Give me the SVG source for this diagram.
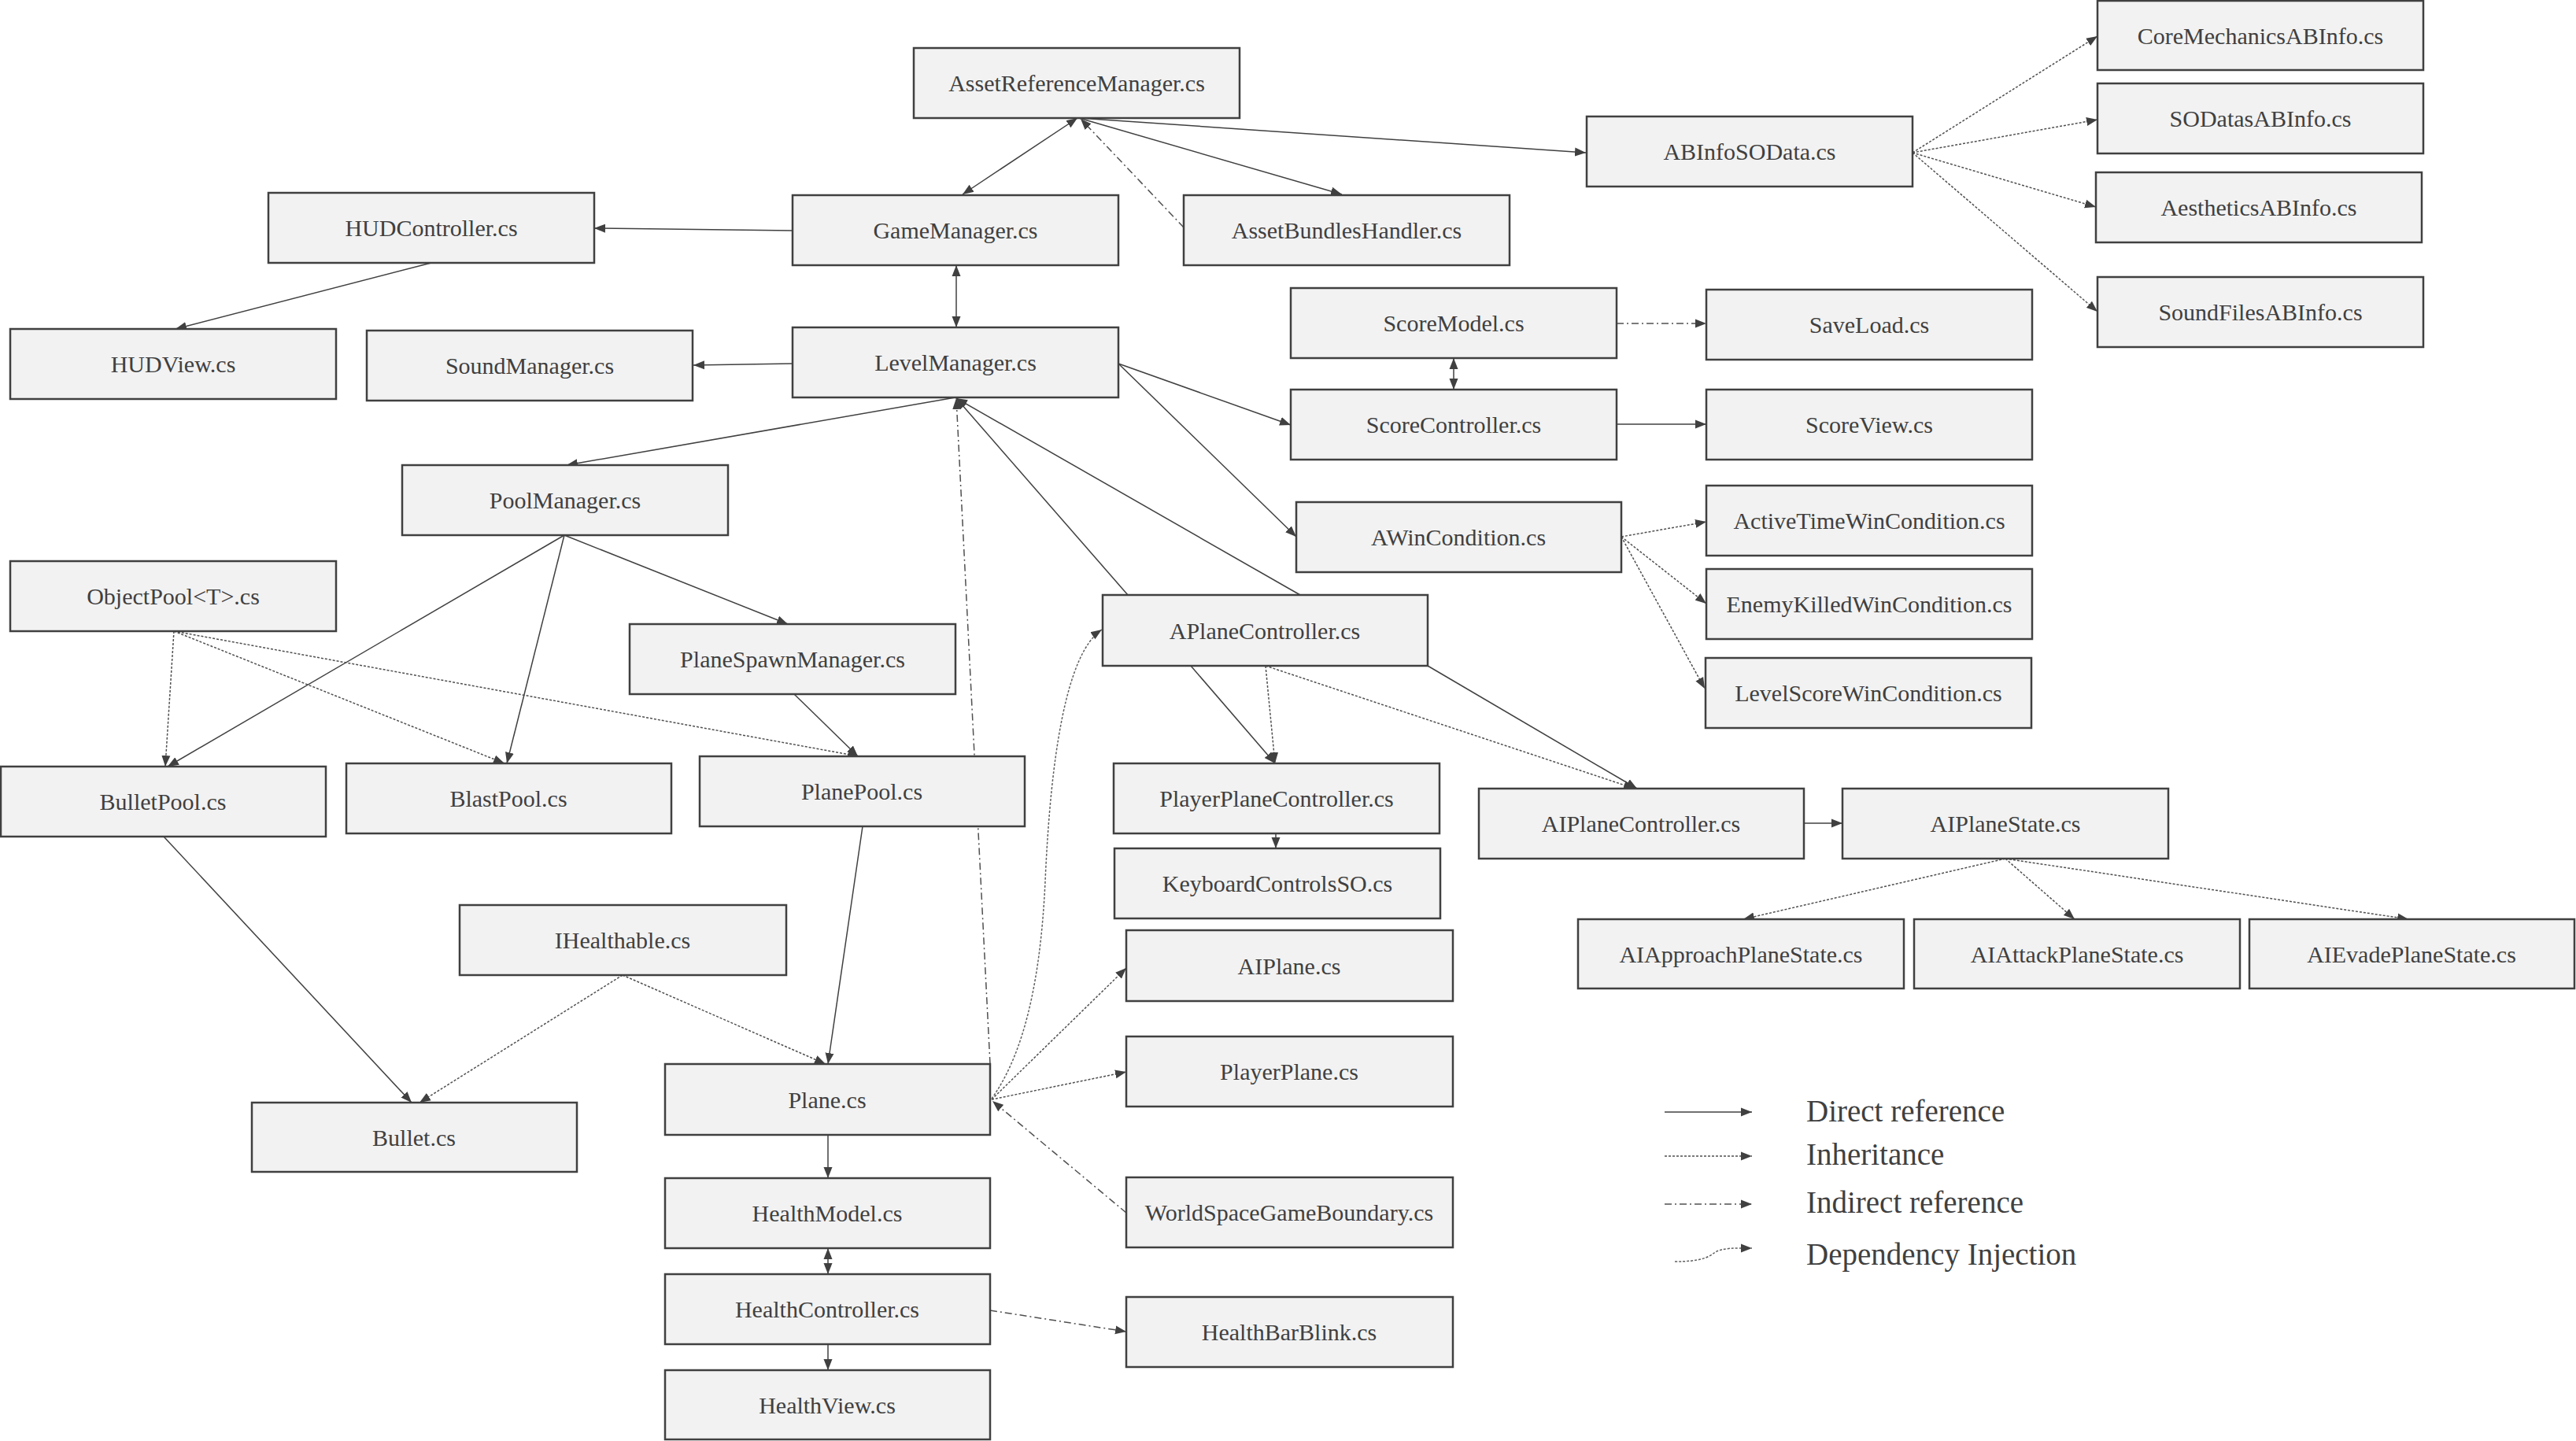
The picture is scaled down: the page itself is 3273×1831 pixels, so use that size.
<svg xmlns="http://www.w3.org/2000/svg" width="3273" height="1831" viewBox="0 0 3273 1831">
<defs>
<marker id="a" markerUnits="userSpaceOnUse" markerWidth="16" markerHeight="12" refX="14" refY="6" orient="auto-start-reverse"><path d="M0,0.5 L14,6 L0,11.5 z" fill="#404040"/></marker>
<style>
.n rect{fill:#f2f2f2;stroke:#404040;stroke-width:2.5}
.n text{font-family:"Liberation Serif","Times New Roman",serif;font-size:30px;fill:#404040;text-anchor:middle}
.c path{fill:none;stroke:#404040;stroke-width:1.5;marker-end:url(#a)}
.c path.b{marker-start:url(#a)}
.c path.i{stroke:#505050;stroke-dasharray:3 2}
.c path.x{stroke:#505050;stroke-dasharray:9 4 2 4}
.c path.j{stroke:#606060;stroke-dasharray:3 2}
.lg text{font-family:"Liberation Serif","Times New Roman",serif;font-size:39px;fill:#404040}
</style>
</defs>
<rect width="3273" height="1831" fill="#ffffff"/>
<g id="connectors" class="c">
<path class="b" d="M1223,247 L1369,150"/>
<path d="M1371,150 L1705,247"/>
<path d="M1371,150 L2015,194"/>
<path d="M1007,293 L755,290"/>
<path d="M548,334 L223,418"/>
<path class="b" d="M1215,337 L1215,416"/>
<path d="M1007,462 L881,464"/>
<path d="M1421,462 L1640,540"/>
<path d="M1421,462 L1647,682"/>
<path d="M1214,505 L720,591"/>
<path d="M1433,756 L1215,506"/>
<path d="M1652,756 L1215,506"/>
<path d="M717,680 L213,974"/>
<path d="M717,680 L644,970"/>
<path d="M717,680 L1001,793"/>
<path d="M1008,881 L1090,961"/>
<path d="M208,1063 L523,1401"/>
<path d="M1096,1050 L1052,1352"/>
<path d="M1052,1442 L1052,1497"/>
<path class="b" d="M1052,1586 L1052,1619"/>
<path d="M1052,1708 L1052,1741"/>
<path d="M1513,846 L1620,970"/>
<path d="M1814,846 L2080,1002"/>
<path d="M1621,1059 L1621,1078"/>
<path d="M2293,1046 L2341,1046"/>
<path class="b" d="M1847,455 L1847,495"/>
<path d="M2054,539 L2168,539"/>
<path class="i" d="M2430,194 L2665,46"/>
<path class="i" d="M2430,194 L2665,152"/>
<path class="i" d="M2430,194 L2663,263"/>
<path class="i" d="M2430,194 L2665,396"/>
<path class="i" d="M221,802 L210,974"/>
<path class="i" d="M221,802 L641,970"/>
<path class="i" d="M221,802 L1091,961"/>
<path class="i" d="M791,1239 L533,1401"/>
<path class="i" d="M791,1239 L1049,1352"/>
<path class="i" d="M1260,1397 L1431,1230"/>
<path class="i" d="M1260,1397 L1431,1362"/>
<path class="i" d="M1608,846 L1620,970"/>
<path class="i" d="M1608,846 L2077,1002"/>
<path class="i" d="M2548,1091 L2215,1168"/>
<path class="i" d="M2548,1091 L2636,1168"/>
<path class="i" d="M2548,1091 L3060,1168"/>
<path class="i" d="M2060,682 L2168,663"/>
<path class="i" d="M2060,682 L2168,767"/>
<path class="i" d="M2060,682 L2166,875"/>
<path class="x" d="M1504,289 L1373,151"/>
<path class="x" d="M1258,1352 L1215,506"/>
<path class="x" d="M2054,411 L2168,411"/>
<path class="x" d="M1431,1541 L1261,1399"/>
<path class="x" d="M1258,1665 L1431,1692"/>
<path class="j" d="M1260,1396 C1300,1340 1322,1250 1328,1120 C1335,960 1355,830 1400,800"/>
</g>
<g id="n1" class="n"><rect x="1161" y="61" width="414" height="89"/><text x="1368" y="116">AssetReferenceManager.cs</text></g>
<g id="n2" class="n"><rect x="1007" y="248" width="414" height="89"/><text x="1214" y="303">GameManager.cs</text></g>
<g id="n3" class="n"><rect x="1504" y="248" width="414" height="89"/><text x="1711" y="303">AssetBundlesHandler.cs</text></g>
<g id="n4" class="n"><rect x="2016" y="148" width="414" height="89"/><text x="2223" y="203">ABInfoSOData.cs</text></g>
<g id="n5" class="n"><rect x="2665" y="1" width="414" height="88"/><text x="2872" y="56">CoreMechanicsABInfo.cs</text></g>
<g id="n6" class="n"><rect x="2665" y="106" width="414" height="89"/><text x="2872" y="161">SODatasABInfo.cs</text></g>
<g id="n7" class="n"><rect x="2663" y="219" width="414" height="89"/><text x="2870" y="274">AestheticsABInfo.cs</text></g>
<g id="n8" class="n"><rect x="2665" y="352" width="414" height="89"/><text x="2872" y="407">SoundFilesABInfo.cs</text></g>
<g id="n9" class="n"><rect x="341" y="245" width="414" height="89"/><text x="548" y="300">HUDController.cs</text></g>
<g id="n10" class="n"><rect x="13" y="418" width="414" height="89"/><text x="220" y="473">HUDView.cs</text></g>
<g id="n11" class="n"><rect x="466" y="420" width="414" height="89"/><text x="673" y="475">SoundManager.cs</text></g>
<g id="n12" class="n"><rect x="1007" y="416" width="414" height="89"/><text x="1214" y="471">LevelManager.cs</text></g>
<g id="n13" class="n"><rect x="1640" y="366" width="414" height="89"/><text x="1847" y="421">ScoreModel.cs</text></g>
<g id="n14" class="n"><rect x="2168" y="368" width="414" height="89"/><text x="2375" y="423">SaveLoad.cs</text></g>
<g id="n15" class="n"><rect x="1640" y="495" width="414" height="89"/><text x="1847" y="550">ScoreController.cs</text></g>
<g id="n16" class="n"><rect x="2168" y="495" width="414" height="89"/><text x="2375" y="550">ScoreView.cs</text></g>
<g id="n17" class="n"><rect x="511" y="591" width="414" height="89"/><text x="718" y="646">PoolManager.cs</text></g>
<g id="n18" class="n"><rect x="1647" y="638" width="413" height="89"/><text x="1853" y="693">AWinCondition.cs</text></g>
<g id="n19" class="n"><rect x="2168" y="617" width="414" height="89"/><text x="2375" y="672">ActiveTimeWinCondition.cs</text></g>
<g id="n20" class="n"><rect x="2168" y="723" width="414" height="89"/><text x="2375" y="778">EnemyKilledWinCondition.cs</text></g>
<g id="n21" class="n"><rect x="2167" y="836" width="414" height="89"/><text x="2374" y="891">LevelScoreWinCondition.cs</text></g>
<g id="n22" class="n"><rect x="13" y="713" width="414" height="89"/><text x="220" y="768">ObjectPool&lt;T&gt;.cs</text></g>
<g id="n23" class="n"><rect x="800" y="793" width="414" height="89"/><text x="1007" y="848">PlaneSpawnManager.cs</text></g>
<g id="n24" class="n"><rect x="1401" y="756" width="413" height="90"/><text x="1607" y="812">APlaneController.cs</text></g>
<g id="n25" class="n"><rect x="1" y="974" width="413" height="89"/><text x="207" y="1029">BulletPool.cs</text></g>
<g id="n26" class="n"><rect x="440" y="970" width="413" height="89"/><text x="646" y="1025">BlastPool.cs</text></g>
<g id="n27" class="n"><rect x="889" y="961" width="413" height="89"/><text x="1095" y="1016">PlanePool.cs</text></g>
<g id="n28" class="n"><rect x="1415" y="970" width="414" height="89"/><text x="1622" y="1025">PlayerPlaneController.cs</text></g>
<g id="n29" class="n"><rect x="1879" y="1002" width="413" height="89"/><text x="2085" y="1057">AIPlaneController.cs</text></g>
<g id="n30" class="n"><rect x="2341" y="1002" width="414" height="89"/><text x="2548" y="1057">AIPlaneState.cs</text></g>
<g id="n31" class="n"><rect x="1416" y="1078" width="414" height="89"/><text x="1623" y="1133">KeyboardControlsSO.cs</text></g>
<g id="n32" class="n"><rect x="2005" y="1168" width="414" height="88"/><text x="2212" y="1223">AIApproachPlaneState.cs</text></g>
<g id="n33" class="n"><rect x="2432" y="1168" width="414" height="88"/><text x="2639" y="1223">AIAttackPlaneState.cs</text></g>
<g id="n34" class="n"><rect x="2858" y="1168" width="413" height="88"/><text x="3064" y="1223">AIEvadePlaneState.cs</text></g>
<g id="n35" class="n"><rect x="584" y="1150" width="415" height="89"/><text x="791" y="1205">IHealthable.cs</text></g>
<g id="n36" class="n"><rect x="1431" y="1182" width="415" height="90"/><text x="1638" y="1238">AIPlane.cs</text></g>
<g id="n37" class="n"><rect x="320" y="1401" width="413" height="88"/><text x="526" y="1456">Bullet.cs</text></g>
<g id="n38" class="n"><rect x="845" y="1352" width="413" height="90"/><text x="1051" y="1408">Plane.cs</text></g>
<g id="n39" class="n"><rect x="1431" y="1317" width="415" height="89"/><text x="1638" y="1372">PlayerPlane.cs</text></g>
<g id="n40" class="n"><rect x="845" y="1497" width="413" height="89"/><text x="1051" y="1552">HealthModel.cs</text></g>
<g id="n41" class="n"><rect x="1431" y="1496" width="415" height="89"/><text x="1638" y="1551">WorldSpaceGameBoundary.cs</text></g>
<g id="n42" class="n"><rect x="845" y="1619" width="413" height="89"/><text x="1051" y="1674">HealthController.cs</text></g>
<g id="n43" class="n"><rect x="1431" y="1648" width="415" height="89"/><text x="1638" y="1703">HealthBarBlink.cs</text></g>
<g id="n44" class="n"><rect x="845" y="1741" width="413" height="88"/><text x="1051" y="1796">HealthView.cs</text></g>
<g id="legend" class="lg">
<g class="c">
<path d="M2115,1413 L2226,1413"/>
<path class="i" d="M2115,1469 L2226,1469"/>
<path class="x" d="M2115,1530 L2226,1530"/>
<path class="j" d="M2128,1603 C2160,1603 2170,1598 2178,1592 C2188,1585 2205,1586 2226,1586"/>
</g>
<text x="2295" y="1425">Direct reference</text>
<text x="2295" y="1480">Inheritance</text>
<text x="2295" y="1541">Indirect reference</text>
<text x="2295" y="1607">Dependency Injection</text>
</g>
</svg>
